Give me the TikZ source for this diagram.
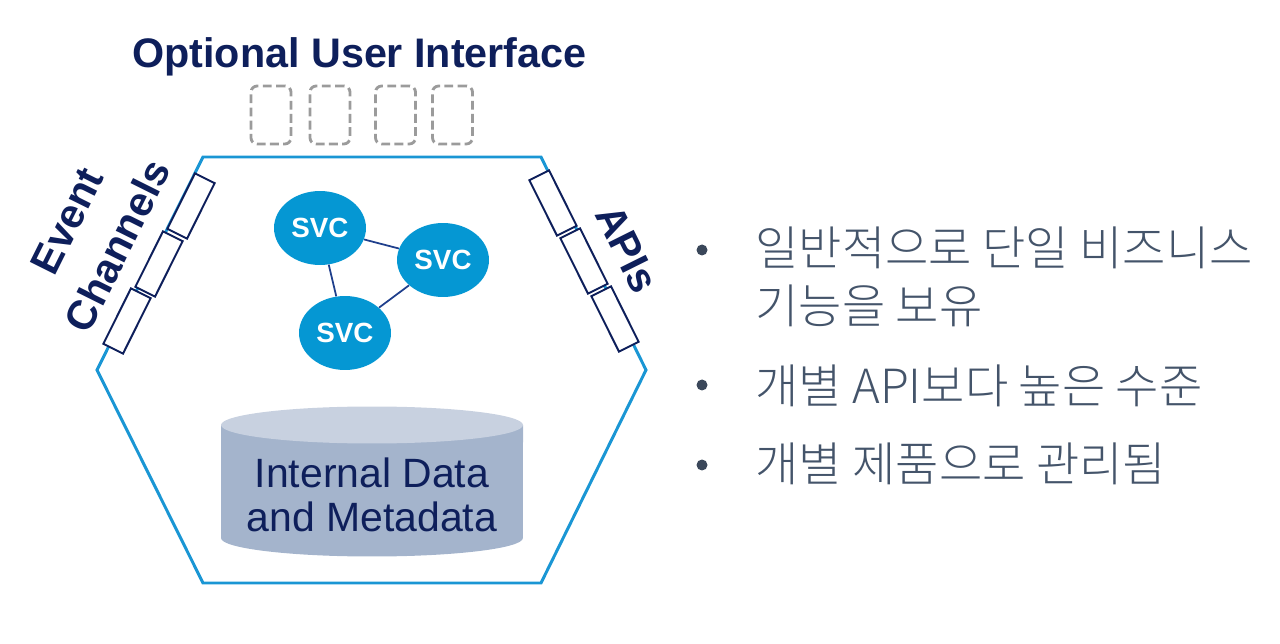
\documentclass[tikz,border=0pt]{standalone}
\usepackage{fontspec}
\setmainfont{Liberation Sans}
\newfontfamily\krfont{Noto Sans CJK KR}[UprightFont={* Light}]
\usetikzlibrary{shapes.geometric}
\definecolor{hexblue}{HTML}{1A96D4}
\definecolor{svcblue}{HTML}{0597D3}
\definecolor{navy}{HTML}{0E1F5B}
\definecolor{linknavy}{HTML}{1F3F8C}
\definecolor{uigray}{HTML}{9B9B9B}
\definecolor{cyltop}{HTML}{C8D1E0}
\definecolor{cylbody}{HTML}{A4B4CC}
\definecolor{textslate}{HTML}{44546A}

\begin{document}
\begin{tikzpicture}[x=0.02cm, y=-0.02cm,
    label/.style={font=\fontsize{23.5}{32}\selectfont\bfseries, text=navy, align=center, inner sep=0pt},
    uibox/.style={draw=uigray, dash pattern=on 5pt off 2.5pt, line width=1.6pt, rounded corners=3.5pt, minimum width=0.8cm, minimum height=1.16cm},
    port/.style={draw=navy, fill=white, line width=1.1pt, minimum width=1.24cm, minimum height=0.44cm, inner sep=0pt},
    svc/.style={ellipse, fill=svcblue, text=white, font=\fontsize{15.8}{18}\selectfont\bfseries, minimum width=1.84cm, minimum height=1.48cm, inner sep=0pt},
    link/.style={linknavy, line width=1pt},
    bullet/.style={circle, fill=textslate!85!black, minimum size=0.22cm, inner sep=0pt},
    item/.style={anchor=west, align=left, text=textslate, font=\krfont\fontsize{26.8}{32.9}\selectfont, inner sep=0pt}]
    \useasboundingbox (0,0) rectangle (1280,644);

    % Hexagon
    \draw[hexblue, line width=1.7pt] (203,157) -- (541,157) -- (646,370) -- (541,583) -- (203,583) -- (97,370) -- cycle;

    % Optional user interface
    \node[label, anchor=base] (title) at (359.5,68) {Optional User Interface};
    \node[uibox] (ui1) at (271,115) {};
    \node[uibox] (ui2) at (330,115) {};
    \node[uibox] (ui3) at (395.5,115) {};
    \node[uibox] (ui4) at (452.5,115) {};

    % Event channels (left)
    \node[port, rotate=63.5] (ev1) at (191,206) {};
    \node[port, rotate=63.5] (ev2) at (159,264) {};
    \node[port, rotate=63.5] (ev3) at (127,321) {};
    \node[label, rotate=63.5] (evt) at (92.5,233.5) {Event\\Channels};

    % APIs (right)
    \node[port, rotate=-63.5] (api1) at (553,203) {};
    \node[port, rotate=-63.5] (api2) at (584,261) {};
    \node[port, rotate=-63.5] (api3) at (615,319) {};
    \node[label, rotate=-63.5] (apis) at (627,249) {APIs};

    % Services
    \node[svc] (s1) at (320,228) {SVC};
    \node[svc] (s2) at (443,260) {SVC};
    \node[svc] (s3) at (345,333) {SVC};
    \draw[link] (s1) -- (s2);
    \draw[link] (s1) -- (s3);
    \draw[link] (s2) -- (s3);

    % Data store
    \fill[cylbody] (221,425) -- (221,538) arc[start angle=180, end angle=360, x radius=3.02cm, y radius=0.37cm] -- (523,425) -- cycle;
    \fill[cyltop] (372,425) ellipse[x radius=3.02cm, y radius=0.37cm];
    \node[font=\fontsize{23.3}{25}\selectfont, text=navy, align=center, inner sep=0pt] (data) at (372,495) {Internal Data\\and Metadata};

    % Bullet points
    \node[bullet] (b1) at (702,250) {};
    \node[item] (t1) at (755,277) {일반적으로 단일 비즈니스\\기능을 보유};
    \node[bullet] (b2) at (702,385) {};
    \node[item] (t2) at (755,386) {개별 API보다 높은 수준};
    \node[bullet] (b3) at (702,465) {};
    \node[item] (t3) at (755,464) {개별 제품으로 관리됨};
\end{tikzpicture}
\end{document}
